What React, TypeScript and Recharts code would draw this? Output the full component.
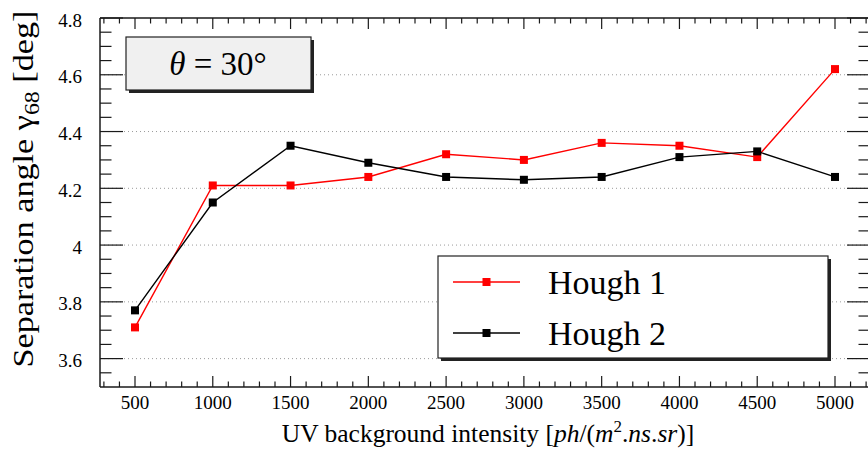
import React from "react";
import { LineChart, Line, XAxis, YAxis, ReferenceLine } from "recharts";

// ---- data ----
const intensities = [500, 1000, 1500, 2000, 2500, 3000, 3500, 4000, 4500, 5000];
const hough1 = [3.71, 4.21, 4.21, 4.24, 4.32, 4.3, 4.36, 4.35, 4.31, 4.62];
const hough2 = [3.77, 4.15, 4.35, 4.29, 4.24, 4.23, 4.24, 4.31, 4.33, 4.24];
const seriesNames = ["Hough 1", "Hough 2"];
const seriesKeys = ["h1", "h2"];
const seriesColors = ["#ff0000", "#000000"];

const xTicks = [
  300, 400, 500, 600, 700, 800, 900, 1000, 1100, 1200, 1300, 1400, 1500, 1600, 1700, 1800, 1900,
  2000, 2100, 2200, 2300, 2400, 2500, 2600, 2700, 2800, 2900, 3000, 3100, 3200, 3300, 3400, 3500,
  3600, 3700, 3800, 3900, 4000, 4100, 4200, 4300, 4400, 4500, 4600, 4700, 4800, 4900, 5000, 5100, 5200,
];
const yTicks = [
  3.55, 3.6, 3.65, 3.7, 3.75, 3.8, 3.85, 3.9, 3.95, 4, 4.05, 4.1, 4.15, 4.2, 4.25, 4.3, 4.35, 4.4,
  4.45, 4.5, 4.55, 4.6, 4.65, 4.7, 4.75, 4.8,
];
const gridValues = [3.6, 3.8, 4, 4.2, 4.4, 4.6];
const xDomain = [275, 5225];
const yDomain = [3.5, 4.8];

const titleText = "Separation angle";
const xTitleText = "UV background intensity";

const data = intensities.map((x, i) => ({ x, h1: hough1[i], h2: hough2[i] }));

const FONT = "'Liberation Serif', 'Times New Roman', serif";
const AX = "#1a1a1a";

const isMajorX = (v: number) => Math.round(v) % 500 === 0;
const isMajorY = (v: number) => Math.round(v * 100) % 20 === 0;

const BottomTick = (p: any) => {
  const { x, y, payload } = p;
  const v = payload.value;
  const major = isMajorX(v);
  return (
    <g>
      <line x1={x} x2={x} y1={y} y2={y - (major ? 11 : 5.5)} stroke={AX} strokeWidth={1.2} />
      {major && (
        <text x={x} y={y + 22} textAnchor="middle" fontFamily={FONT} fontSize={19} fill="#000">
          {String(v)}
        </text>
      )}
    </g>
  );
};

const TopTick = (p: any) => {
  const { x, y, payload } = p;
  const major = isMajorX(payload.value);
  return <line x1={x} x2={x} y1={y} y2={y + (major ? 11 : 5.5)} stroke={AX} strokeWidth={1.2} />;
};

const LeftTick = (p: any) => {
  const { x, y, payload } = p;
  const v = payload.value;
  const major = isMajorY(v);
  return (
    <g>
      <line x1={x} x2={x + (major ? 23 : 11.5)} y1={y} y2={y} stroke={AX} strokeWidth={1.2} />
      {major && (
        <text x={x - 18} y={y + 8.5} textAnchor="end" fontFamily={FONT} fontSize={19} fill="#000">
          {String(v)}
        </text>
      )}
    </g>
  );
};

const RightTick = (p: any) => {
  const { x, y, payload } = p;
  const major = isMajorY(payload.value);
  return <line x1={x} x2={x - (major ? 23 : 11.5)} y1={y} y2={y} stroke={AX} strokeWidth={1.2} />;
};

const squareDot = (color: string) => (props: any) => {
  const { cx, cy, index } = props;
  if (cx == null || cy == null) return <g key={index} />;
  return <rect key={index} x={cx - 4} y={cy - 4} width={8} height={8} fill={color} />;
};

export default function App() {
  return (
    <div style={{ position: "relative", width: 868, height: 450, overflow: "hidden", background: "#fff" }}>
      <style>{"body{margin:0;overflow:hidden;background:#fff}"}</style>
      <LineChart
        width={880}
        height={450}
        data={data}
        margin={{ top: 17, right: 9, bottom: 62, left: 99 }}
      >
        {gridValues.map((g) => (
          <ReferenceLine
            key={g}
            y={g}
            xAxisId="bottom"
            yAxisId="left"
            stroke="#9a9a9a"
            strokeWidth={1}
            strokeDasharray="1 3"
          />
        ))}
        <XAxis
          xAxisId="bottom"
          dataKey="x"
          type="number"
          domain={xDomain}
          ticks={xTicks}
          interval={0}
          height={1}
          tickSize={0}
          tickMargin={0}
          tickLine={false}
          axisLine={{ stroke: AX, strokeWidth: 1.5 }}
          tick={BottomTick}
          allowDataOverflow
        />
        <XAxis
          xAxisId="top"
          orientation="top"
          dataKey="x"
          type="number"
          domain={xDomain}
          ticks={xTicks}
          interval={0}
          height={1}
          tickSize={0}
          tickMargin={0}
          tickLine={false}
          axisLine={{ stroke: AX, strokeWidth: 1.5 }}
          tick={TopTick}
          allowDataOverflow
        />
        <YAxis
          yAxisId="left"
          type="number"
          domain={yDomain}
          ticks={yTicks}
          interval={0}
          width={1}
          tickSize={0}
          tickMargin={0}
          tickLine={false}
          axisLine={{ stroke: AX, strokeWidth: 1.5 }}
          tick={LeftTick}
          allowDataOverflow
        />
        <YAxis
          yAxisId="right"
          orientation="right"
          type="number"
          domain={yDomain}
          ticks={yTicks}
          interval={0}
          width={1}
          tickSize={0}
          tickMargin={0}
          tickLine={false}
          axisLine={{ stroke: AX, strokeWidth: 1.5 }}
          tick={RightTick}
          allowDataOverflow
        />
        {seriesKeys.map((k, i) => (
          <Line
            key={k}
            xAxisId="bottom"
            yAxisId="left"
            dataKey={k}
            name={seriesNames[i]}
            type="linear"
            stroke={seriesColors[i]}
            strokeWidth={1.4}
            dot={squareDot(seriesColors[i])}
            activeDot={false}
            isAnimationActive={false}
          />
        ))}
      </LineChart>
      <svg
        width={868}
        height={450}
        style={{ position: "absolute", left: 0, top: 0, pointerEvents: "none" }}
      >
        {/* y axis title */}
        <text
          transform="translate(33,189) rotate(-90) scale(1.14,1)"
          textAnchor="middle"
          fontFamily={FONT}
          fontSize={30}
          fill="#000"
        >
          {titleText} γ
          <tspan fontSize={21} dy={6}>68</tspan>
          <tspan dy={-6}> [deg]</tspan>
        </text>
        {/* x axis title */}
        <text x={488} y={442} textAnchor="middle" fontFamily={FONT} fontSize={25.5} fill="#000">
          {xTitleText} [<tspan fontStyle="italic">ph</tspan>/(<tspan fontStyle="italic">m</tspan>
          <tspan fontSize={17} dy={-10}>2</tspan>
          <tspan dy={10}>.</tspan>
          <tspan fontStyle="italic">ns</tspan>.<tspan fontStyle="italic">sr</tspan>)]
        </text>
        {/* theta box */}
        <rect x={129} y={40} width={185} height={53} fill="#222" />
        <rect x={126} y={37} width={185} height={53} fill="#f0f0f0" stroke="#222" strokeWidth={1.2} />
        <text x={218} y={75} textAnchor="middle" fontFamily={FONT} fontSize={33} fill="#000">
          <tspan fontStyle="italic">θ</tspan> = 30°
        </text>
        {/* legend */}
        <rect x={441} y={259} width={390} height={102} fill="#222" />
        <rect x={438} y={256} width={390} height={102} fill="#fff" stroke="#222" strokeWidth={1.2} />
        {seriesNames.map((n, i) => {
          const cy = 282 + i * 51;
          return (
            <g key={n}>
              <line x1={453} x2={520} y1={cy} y2={cy} stroke={seriesColors[i]} strokeWidth={1.4} />
              <rect x={482.5} y={cy - 4} width={8} height={8} fill={seriesColors[i]} />
              <text x={548} y={cy + 12} fontFamily={FONT} fontSize={34} fill="#000">
                {n}
              </text>
            </g>
          );
        })}
      </svg>
    </div>
  );
}
